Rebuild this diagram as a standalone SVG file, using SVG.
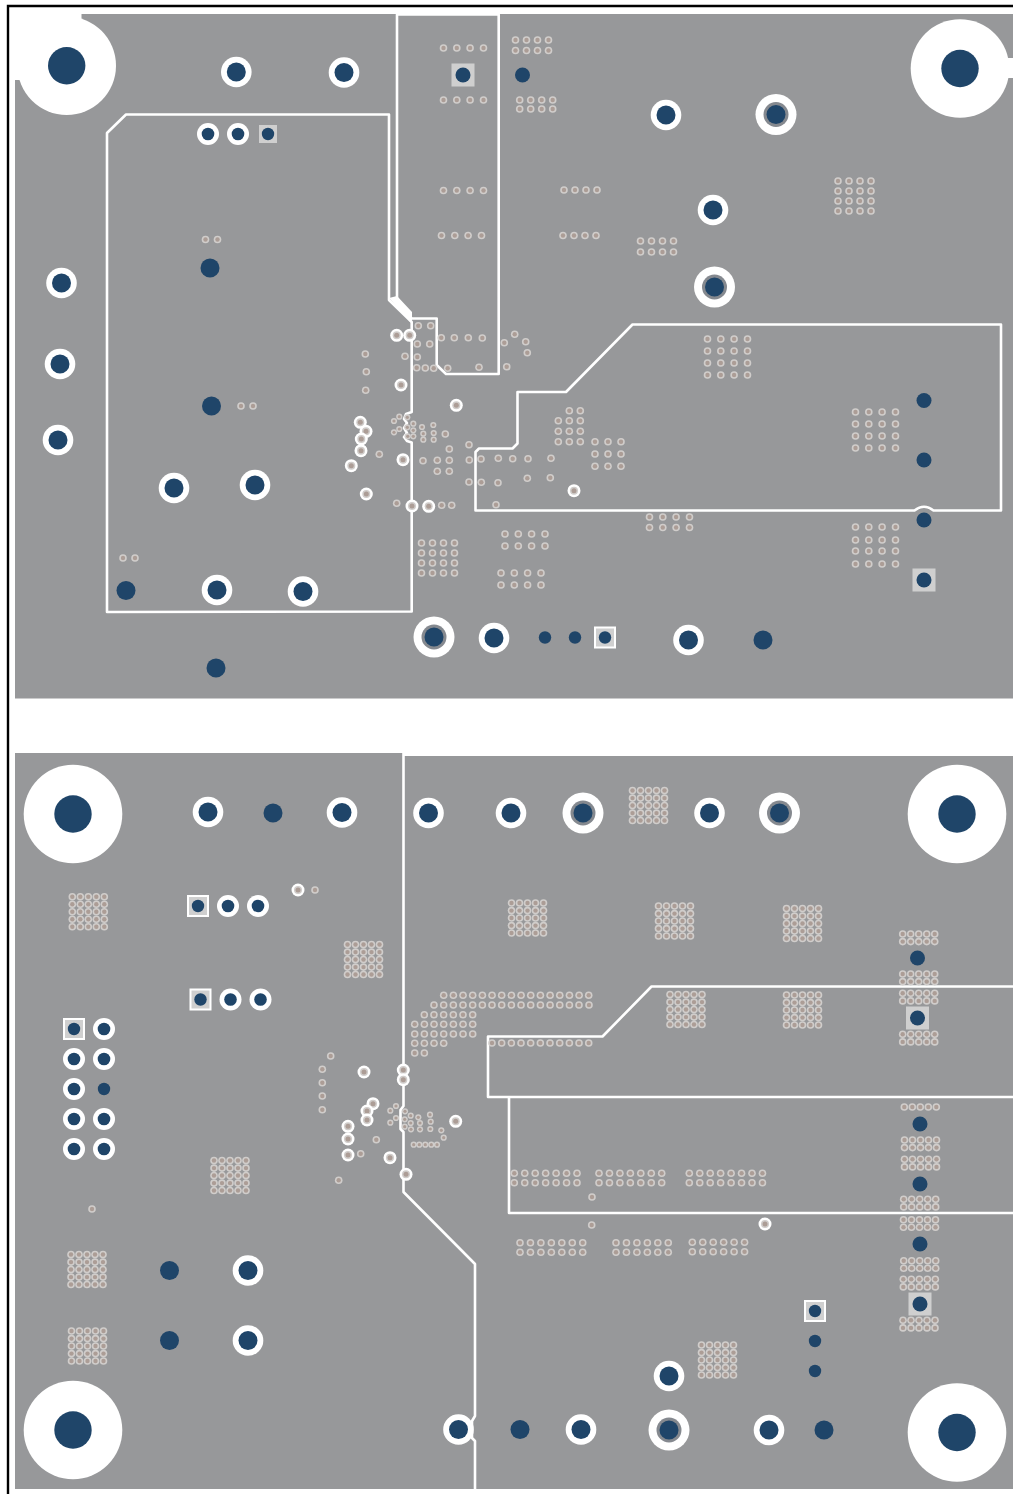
<svg xmlns="http://www.w3.org/2000/svg" width="1013" height="1494" viewBox="0 0 1013 1494">
<style>
.l{fill:none;stroke:#fff;stroke-width:2.6;stroke-linejoin:round}
.p{fill:#97989a}
.b{fill:#1f4569}
.h{fill:#fff}
.q{fill:#cfcfcf}
</style>
<defs>
<g id="v"><circle r="3.8" fill="#d0cdcb"/><circle r="2.2" fill="#ac9d96"/></g>
<g id="u"><circle r="3.1" fill="#d0cdcb"/><circle r="1.6" fill="#ac9d96"/></g>
<g id="w"><circle r="6.5" class="h"/><circle r="4" fill="#d0cdcb"/><circle r="2.5" fill="#ac9d96"/></g>
<g id="r5"><use href="#v"/><use href="#v" x="8"/><use href="#v" x="16"/><use href="#v" x="24"/><use href="#v" x="32"/></g>
<g id="g52"><use href="#r5"/><use href="#r5" y="7.6"/></g>
<g id="g55"><use href="#g52"/><use href="#g52" y="15"/><use href="#r5" y="30"/></g>
<g id="f11"><use href="#v"/><use href="#v" x="11"/><use href="#v" x="22"/><use href="#v" x="33"/></g>
<g id="f13"><use href="#v"/><use href="#v" x="13.3"/><use href="#v" x="26.6"/><use href="#v" x="40"/></g>
<g id="t2"><use href="#v"/><use href="#v" x="10.45"/></g>
<g id="t4"><use href="#t2"/><use href="#t2" x="20.9"/></g>
<g id="t6"><use href="#t4"/><use href="#t2" x="41.8"/></g>
<g id="t7"><use href="#t6"/><use href="#v" x="62.7"/></g>
<g id="t8"><use href="#t6"/><use href="#t2" x="62.7"/></g>
<g id="d2"><use href="#v"/><use href="#v" x="9.67"/></g>
<g id="d4"><use href="#d2"/><use href="#d2" x="19.34"/></g>
<g id="d7"><use href="#d4"/><use href="#d2" x="38.68"/><use href="#v" x="58"/></g>
<g id="d11"><use href="#d7"/><use href="#d4" x="67.7"/></g>
<g id="d16"><use href="#d11"/><use href="#d4" x="106.4"/><use href="#v" x="145"/></g>
<g id="A"><circle r="15.3" class="h"/><circle r="9.5" class="b"/></g>
<g id="C"><circle r="11" class="h"/><circle r="6.3" class="b"/></g>
<g id="L"><circle r="20.5" class="h"/><circle r="12.5" fill="#85898f"/><circle r="9.5" class="b"/></g>
<circle id="B" r="9.5" class="b"/>
<circle id="M" r="7.5" class="b"/>
<circle id="S" r="6.2" class="b"/>
<g id="P"><rect x="-11.5" y="-11.5" width="23" height="23" class="q"/><circle r="7.5" class="b"/></g>
<g id="Q"><rect x="-9" y="-9" width="18" height="18" class="q"/><circle r="6.2" class="b"/></g>
<g id="T"><rect x="-10" y="-10" width="20" height="20" class="q" stroke="#fff" stroke-width="2"/><circle r="6.2" class="b"/></g>
<g id="H"><circle r="49.3" class="h"/><circle r="18.7" class="b"/></g>
</defs>
<rect width="1013" height="1494" fill="#fff"/>
<path d="M8 1494V6H1013" fill="none" stroke="#000" stroke-width="2.4"/>
<g id="board-top">
<rect x="15" y="14" width="998" height="684.500" class="p"/>
<g id="top-outlines">
<path class="l" d="M107 612V133L126 114.500H389V300L411.700 322V412L406 414L404 419L407 423L404 428L407 433L404 437L407 441L411.700 442.500V611.500Z"/>
<path class="l" d="M411.700 318.500H436.700V365L446 374H498.700V14.500H397V298L411.700 318.500"/>
<polygon class="h" points="389,298 397,296 412,312 412,324"/>
<path class="l" d="M475.500 510.500V452L479 448.500H512.500L517.500 443.500V392H566L632.500 324.500H1001V510.500H933.500Q924 503 914.500 510.500Z"/>
</g>
<g id="top-holes">
<rect x="15" y="14" width="66.500" height="66" class="h"/>
<use href="#H" x="66.700" y="65.700"/>
<rect x="1000" y="58" width="13" height="20" class="h"/>
<use href="#H" x="960" y="68.500"/>
</g>
<g id="top-vias">
<use href="#f13" x="443.500" y="48"/><use href="#f13" x="443.500" y="100"/>
<use href="#f11" x="515.500" y="40"/><use href="#f11" x="515.500" y="50.500"/>
<use href="#f11" x="519.700" y="100"/><use href="#f11" x="519.700" y="109"/>
<use href="#f13" x="443.500" y="190.500"/><use href="#f13" x="441.500" y="235.500"/>
<use href="#f11" x="564" y="190"/><use href="#f11" x="563" y="235.500"/>
<use href="#f11" x="640.500" y="241"/><use href="#f11" x="640.500" y="252"/>
<use href="#f11" x="838" y="181"/><use href="#f11" x="838" y="191"/><use href="#f11" x="838" y="201"/><use href="#f11" x="838" y="211"/>
<use href="#f13" x="707.500" y="339"/><use href="#f13" x="707.500" y="351"/><use href="#f13" x="707.500" y="363"/><use href="#f13" x="707.500" y="375"/>
<use href="#f13" x="855.500" y="412"/><use href="#f13" x="855.500" y="424"/><use href="#f13" x="855.500" y="436"/><use href="#f13" x="855.500" y="448"/>
<use href="#f13" x="855.500" y="527"/><use href="#f13" x="855.500" y="540"/><use href="#f13" x="855.500" y="551"/><use href="#f13" x="855.500" y="564"/>
<use href="#f13" x="649.500" y="517"/><use href="#f13" x="649.500" y="527.500"/>
<use href="#f13" x="505" y="534"/><use href="#f13" x="505" y="546"/>
<use href="#f13" x="501" y="573"/><use href="#f13" x="501" y="585"/>
<use href="#f11" x="421.500" y="543"/><use href="#f11" x="421.500" y="553"/><use href="#f11" x="421.500" y="563"/><use href="#f11" x="421.500" y="573"/>
<use href="#v" x="205.500" y="239.500"/><use href="#v" x="217.500" y="239.500"/><use href="#v" x="241" y="406"/><use href="#v" x="253" y="406"/><use href="#v" x="123" y="558"/><use href="#v" x="135" y="558"/>
<use href="#v" x="418.300" y="325.700"/><use href="#v" x="430.700" y="325.700"/><use href="#v" x="441.300" y="337.700"/><use href="#v" x="454.300" y="337.700"/><use href="#v" x="468.300" y="337.700"/><use href="#v" x="482.300" y="338"/><use href="#v" x="514.700" y="334.300"/><use href="#v" x="504.300" y="342.700"/><use href="#v" x="525.700" y="341.700"/><use href="#v" x="527.300" y="352.700"/><use href="#v" x="417.300" y="344"/><use href="#v" x="429.700" y="344"/><use href="#v" x="405" y="356.300"/><use href="#v" x="417.300" y="357"/><use href="#v" x="416.700" y="367.700"/><use href="#v" x="425.300" y="368"/><use href="#v" x="433.700" y="368.300"/><use href="#v" x="447.700" y="368.300"/><use href="#v" x="479" y="367.300"/><use href="#v" x="506.700" y="366.700"/><use href="#v" x="365.300" y="354"/><use href="#v" x="366.300" y="371.700"/><use href="#v" x="365.700" y="390.300"/>
<use href="#u" x="394" y="421"/><use href="#u" x="399.300" y="416.700"/><use href="#u" x="407.300" y="417.300"/><use href="#u" x="394" y="432.300"/><use href="#u" x="399.300" y="429"/><use href="#u" x="407.300" y="427.300"/><use href="#u" x="407.700" y="436.300"/><use href="#u" x="413.300" y="423.700"/><use href="#u" x="413.300" y="430.300"/><use href="#u" x="413.300" y="436.300"/><use href="#u" x="422" y="427"/><use href="#u" x="423.300" y="433.700"/><use href="#u" x="423.300" y="439.700"/><use href="#u" x="433.300" y="425"/><use href="#u" x="433.700" y="433"/><use href="#u" x="433.700" y="439.700"/>
<use href="#v" x="445.300" y="434"/><use href="#v" x="449.300" y="449"/><use href="#v" x="469" y="444.700"/><use href="#v" x="423" y="460.700"/><use href="#v" x="437.300" y="460.300"/><use href="#v" x="449.300" y="460.300"/><use href="#v" x="437.300" y="471.300"/><use href="#v" x="449.300" y="471.300"/><use href="#v" x="469.300" y="460"/><use href="#v" x="481" y="459"/><use href="#v" x="498.300" y="458.300"/><use href="#v" x="512.700" y="458.700"/><use href="#v" x="528" y="458.700"/><use href="#v" x="551" y="458.300"/><use href="#v" x="469" y="482"/><use href="#v" x="481.300" y="482.300"/><use href="#v" x="498" y="482.700"/><use href="#v" x="527.300" y="478.300"/><use href="#v" x="550.300" y="477.700"/><use href="#v" x="496" y="504.700"/><use href="#v" x="379.300" y="454.300"/><use href="#v" x="396.700" y="503.300"/><use href="#v" x="441.700" y="505.300"/><use href="#v" x="451.700" y="505.300"/>
<use href="#v" x="569.300" y="410.700"/><use href="#v" x="580.300" y="410.700"/><use href="#v" x="558.300" y="420.700"/><use href="#v" x="569.300" y="420.700"/><use href="#v" x="580.300" y="420.700"/><use href="#v" x="558.300" y="431.300"/><use href="#v" x="569.300" y="431.300"/><use href="#v" x="580.300" y="431.300"/><use href="#v" x="558.300" y="441.700"/><use href="#v" x="569.300" y="441.700"/><use href="#v" x="580.300" y="441.700"/>
<use href="#v" x="595" y="441.700"/><use href="#v" x="608" y="441.700"/><use href="#v" x="621" y="441.700"/><use href="#v" x="595" y="454"/><use href="#v" x="608" y="454"/><use href="#v" x="621" y="454"/><use href="#v" x="595" y="466.300"/><use href="#v" x="608" y="466.300"/><use href="#v" x="621" y="466.300"/>
<use href="#w" x="396.700" y="335.300"/><use href="#w" x="409.700" y="335.300"/><use href="#w" x="401" y="385"/><use href="#w" x="456.300" y="405.300"/><use href="#w" x="360.300" y="422.300"/><use href="#w" x="366" y="431.300"/><use href="#w" x="361.300" y="439"/><use href="#w" x="361" y="450.700"/><use href="#w" x="351.300" y="465.700"/><use href="#w" x="403" y="459.700"/><use href="#w" x="366.300" y="494"/><use href="#w" x="412" y="506"/><use href="#w" x="428.700" y="506.300"/><use href="#w" x="574" y="490.700"/>
</g>
<g id="top-pads">
<use href="#A" x="236.300" y="72"/><use href="#A" x="344" y="72.500"/><use href="#C" x="208" y="134"/><use href="#C" x="238" y="134"/><use href="#Q" x="268" y="134"/>
<use href="#P" x="463" y="75"/><use href="#M" x="522.500" y="75"/>
<use href="#A" x="666" y="115"/><use href="#L" x="776" y="114.500"/><use href="#A" x="713" y="210"/><use href="#L" x="714.500" y="287"/>
<use href="#A" x="61.500" y="283"/><use href="#A" x="60" y="364"/><use href="#A" x="58" y="440"/>
<use href="#B" x="210" y="268"/><use href="#B" x="211.500" y="406"/><use href="#A" x="174" y="488"/><use href="#A" x="255" y="485"/>
<use href="#B" x="126" y="590.500"/><use href="#A" x="217" y="590"/><use href="#A" x="303" y="591.500"/><use href="#B" x="216" y="668"/>
<use href="#L" x="434" y="637"/><use href="#A" x="494" y="638"/><use href="#S" x="545" y="637.500"/><use href="#S" x="575" y="637.500"/><use href="#T" x="605" y="637.500"/>
<use href="#A" x="688.500" y="640"/><use href="#B" x="763" y="640"/>
<use href="#M" x="924" y="400.500"/><use href="#M" x="924" y="460"/><use href="#M" x="924" y="520"/><use href="#P" x="924" y="580"/>
</g>
</g>
<g id="board-bottom">
<path class="p" d="M15 753H403V756H1013V1489H15Z"/>
<g id="bottom-outlines">
<path class="l" d="M403.500 753V1106L400.500 1110V1129L403.500 1132V1192L475 1264V1416L472 1421V1438L475 1441V1489"/>
<path class="l" d="M1013 986.500H651.500L602.500 1036.500H488V1097H1013"/>
<path class="l" d="M509 1097V1213H1013"/>
</g>
<g id="bottom-holes">
<use href="#H" x="73" y="814"/><use href="#H" x="957" y="814"/><use href="#H" x="73" y="1430"/><use href="#H" x="957" y="1432.500"/>
</g>
<g id="bottom-vias">
<use href="#g55" x="72.300" y="896.700"/><use href="#g55" x="347.500" y="944.500"/><use href="#g55" x="511.500" y="903"/><use href="#g55" x="658.500" y="906"/><use href="#g55" x="786.500" y="908.500"/><use href="#g55" x="632.500" y="790.500"/><use href="#g55" x="670" y="994.500"/><use href="#g55" x="786.500" y="995"/><use href="#g55" x="214" y="1160.500"/><use href="#g55" x="71" y="1254.500"/><use href="#g55" x="71.500" y="1331"/><use href="#g55" x="701.500" y="1345"/>
<use href="#g52" x="902.700" y="934"/><use href="#g52" x="902.700" y="974"/><use href="#g52" x="902.700" y="993.300"/><use href="#g52" x="902.700" y="1034.300"/>
<use href="#r5" x="904.300" y="1107"/><use href="#g52" x="904.500" y="1140"/><use href="#g52" x="904.500" y="1159.300"/><use href="#g52" x="903.700" y="1199.300"/><use href="#g52" x="903.500" y="1219.700"/><use href="#g52" x="903.700" y="1260.700"/><use href="#g52" x="903.300" y="1279.300"/><use href="#g52" x="903" y="1320.300"/>
<use href="#t7" x="514.300" y="1173.300"/><use href="#t7" x="514.300" y="1182.700"/><use href="#t7" x="599" y="1173.300"/><use href="#t7" x="599" y="1182.700"/><use href="#t8" x="689.300" y="1173.300"/><use href="#t8" x="689.300" y="1182.700"/>
<use href="#t7" x="520" y="1242.700"/><use href="#t7" x="520" y="1252.300"/><use href="#t6" x="616" y="1242.700"/><use href="#t6" x="616" y="1252.300"/><use href="#t6" x="692.300" y="1242.300"/><use href="#t6" x="692.300" y="1251.700"/>
<use href="#v" x="592" y="1197"/><use href="#v" x="591.700" y="1225"/>
<use href="#d16" x="443.700" y="995.300"/><use href="#d16" x="434" y="1005"/><use href="#v" x="589" y="1005"/>
<use href="#d4" x="424.300" y="1014.700"/><use href="#d2" x="463" y="1014.700"/><use href="#d7" x="414.700" y="1024.300"/><use href="#d7" x="414.700" y="1034"/><use href="#d4" x="414.700" y="1043.300"/><use href="#d2" x="414.700" y="1053"/><use href="#d11" x="492" y="1043"/>
<use href="#v" x="330.700" y="1056"/><use href="#v" x="322.300" y="1069.300"/><use href="#v" x="322.300" y="1082.700"/><use href="#v" x="322.300" y="1096"/><use href="#v" x="322.300" y="1109.700"/><use href="#v" x="376.300" y="1139.700"/><use href="#v" x="360.700" y="1153.700"/><use href="#v" x="338.700" y="1180.300"/><use href="#v" x="315" y="890"/><use href="#v" x="92" y="1209"/>
<use href="#u" x="396" y="1106"/><use href="#u" x="390.300" y="1110.700"/><use href="#u" x="405" y="1111.300"/><use href="#u" x="396" y="1118"/><use href="#u" x="404.700" y="1119.300"/><use href="#u" x="390.300" y="1122.700"/><use href="#u" x="404.700" y="1126.700"/><use href="#u" x="410.700" y="1115.700"/><use href="#u" x="410.700" y="1123"/><use href="#u" x="411" y="1129.300"/><use href="#u" x="418.300" y="1117.300"/><use href="#u" x="420" y="1123"/><use href="#u" x="420" y="1129.300"/><use href="#u" x="430" y="1114.700"/><use href="#u" x="430.700" y="1121.700"/><use href="#u" x="430.300" y="1129"/><use href="#u" x="441.300" y="1130.300"/><use href="#u" x="443.700" y="1137.700"/><use href="#u" x="413.700" y="1144.700"/><use href="#u" x="419.300" y="1144.700"/><use href="#u" x="425.300" y="1144.700"/><use href="#u" x="431.300" y="1144.700"/><use href="#u" x="437" y="1144.700"/>
<use href="#w" x="403.300" y="1070"/><use href="#w" x="403.300" y="1079.700"/><use href="#w" x="364" y="1072"/><use href="#w" x="373" y="1103.700"/><use href="#w" x="367" y="1111"/><use href="#w" x="367" y="1120"/><use href="#w" x="348" y="1126.300"/><use href="#w" x="348" y="1139"/><use href="#w" x="348" y="1155"/><use href="#w" x="390" y="1157.700"/><use href="#w" x="406" y="1174.300"/><use href="#w" x="455.700" y="1121.300"/><use href="#w" x="298" y="890"/><use href="#w" x="765" y="1224"/>
</g>
<g id="bottom-pads">
<use href="#A" x="208" y="812"/><use href="#B" x="273" y="813"/><use href="#A" x="342" y="812.500"/><use href="#A" x="428.500" y="813"/><use href="#A" x="511" y="813"/><use href="#L" x="583" y="813"/><use href="#A" x="709.500" y="813"/><use href="#L" x="779.500" y="813"/>
<use href="#T" x="198" y="906"/><use href="#C" x="228" y="906"/><use href="#C" x="258" y="906"/><use href="#T" x="200.500" y="999.500"/><use href="#C" x="230.500" y="999.500"/><use href="#C" x="260.500" y="999.500"/>
<use href="#T" x="74" y="1029"/><use href="#C" x="104" y="1029"/><use href="#C" x="74" y="1059"/><use href="#C" x="104" y="1059"/><use href="#C" x="74" y="1089"/><use href="#S" x="104" y="1089"/><use href="#C" x="74" y="1119"/><use href="#C" x="104" y="1119"/><use href="#C" x="74" y="1149"/><use href="#C" x="104" y="1149"/>
<use href="#M" x="917.500" y="958"/><use href="#P" x="917.500" y="1018"/><use href="#M" x="920" y="1124"/><use href="#M" x="920" y="1184"/><use href="#M" x="920" y="1244"/><use href="#P" x="920" y="1304"/>
<use href="#B" x="169.500" y="1270.500"/><use href="#A" x="248" y="1270.500"/><use href="#B" x="169.500" y="1340.500"/><use href="#A" x="248" y="1340.500"/>
<use href="#T" x="815" y="1311"/><use href="#S" x="815" y="1341"/><use href="#S" x="815" y="1371"/>
<use href="#A" x="669" y="1376"/><use href="#A" x="458.500" y="1429.500"/><use href="#B" x="520" y="1429.500"/><use href="#A" x="581" y="1429.500"/><use href="#L" x="669" y="1430"/><use href="#A" x="769" y="1430"/><use href="#B" x="824" y="1430"/>
</g>
</g>
</svg>
